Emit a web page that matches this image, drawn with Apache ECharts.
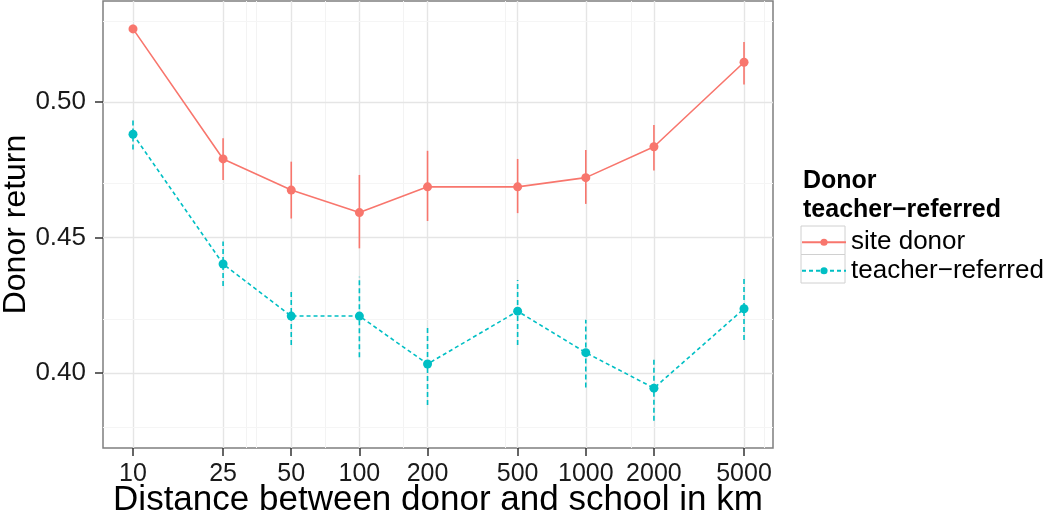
<!DOCTYPE html>
<html>
<head>
<meta charset="utf-8">
<script src="https://cdn.jsdelivr.net/npm/echarts@6/dist/echarts.min.js"></script>
<style>
  html, body { margin: 0; padding: 0; background: #fff; }
  #chart { width: 1050px; height: 514px; }
</style>
</head>
<body>
<div id="chart"></div>
<script>
// distance bins (km), log x axis
const distances = [10, 25, 50, 100, 200, 500, 1000, 2000, 5000]
const yTicks = [0.40, 0.45, 0.50]
const yMinor = [0.375, 0.425, 0.475, 0.525]
const xMinor = [31.6, 35, 70.4, 157, 443, 1580, 6170]

// site donor: mean, lower, upper
const siteMean = [0.527, 0.479, 0.4675, 0.4592, 0.4687, 0.4687, 0.4721, 0.4835, 0.5147]
const siteLow  = [0.5255, 0.4712, 0.457, 0.446, 0.4561, 0.459, 0.4624, 0.4747, 0.5065]
const siteHigh = [0.5285, 0.4866, 0.478, 0.4731, 0.482, 0.479, 0.4823, 0.4915, 0.5222]

// teacher-referred: mean, lower, upper
const teachMean = [0.4881, 0.4402, 0.421, 0.421, 0.4033, 0.4228, 0.4075, 0.3944, 0.4237]
const teachLow  = [0.4825, 0.4321, 0.4103, 0.4058, 0.3882, 0.4103, 0.3946, 0.3824, 0.4122]
const teachHigh = [0.494, 0.4485, 0.4309, 0.4355, 0.4177, 0.4343, 0.4196, 0.4054, 0.4355]

const RED = '#F8766D'
const CYAN = '#00BFC4'
const FONT = 'Liberation Sans'

function pairs(xs, ys) {
  return xs.map((x, i) => [x, ys[i]])
}

function errorBars(name, color, low, high, dash) {
  return {
    name: name,
    type: 'custom',
    z: 3,
    silent: true,
    color: color,
    data: distances.map((d, i) => [d, low[i], high[i]]),
    renderItem: function (params, api) {
      const p1 = api.coord([api.value(0), api.value(1)])
      const p2 = api.coord([api.value(0), api.value(2)])
      return {
        type: 'line',
        shape: { x1: p1[0], y1: p1[1], x2: p2[0], y2: p2[1] },
        style: { stroke: color, lineWidth: 1.6, lineDash: dash, opacity: 1 }
      }
    }
  }
}

const gridLines = []
distances.forEach(v => gridLines.push({ xAxis: v, lineStyle: { color: '#e5e5e5', width: 1.4, type: 'solid' } }))
xMinor.forEach(v => gridLines.push({ xAxis: v, lineStyle: { color: '#f3f3f3', width: 1, type: 'solid' } }))
yTicks.forEach(v => gridLines.push({ yAxis: v, lineStyle: { color: '#e5e5e5', width: 1.4, type: 'solid' } }))
yMinor.forEach(v => gridLines.push({ yAxis: v, lineStyle: { color: '#f5f5f5', width: 1, type: 'solid' } }))

const option = {
  animation: false,
  textStyle: { fontFamily: FONT },
  grid: {
    left: 103, right: 277, top: 1, bottom: 66,
    containLabel: false,
    outerBoundsMode: 'none',
    show: true, borderColor: '#7f7f7f', borderWidth: 1.5, backgroundColor: '#fff'
  },
  title: {
    text: 'Donor\nteacher\u2212referred',
    left: 803, top: 167, padding: 0,
    textStyle: { fontFamily: FONT, fontWeight: 'bold', fontSize: 25, lineHeight: 29, color: '#000' }
  },
  legend: {
    orient: 'vertical',
    left: 801, top: 228, padding: 0,
    itemWidth: 44, itemHeight: 9, itemGap: 0,
    data: ['site donor', 'teacher-referred'],
    formatter: n => n.replace('-', '\u2212'),
    textStyle: { fontFamily: FONT, fontSize: 26, lineHeight: 28.5, color: '#000' }
  },
  xAxis: {
    type: 'log',
    logBase: 10,
    min: 7.37,
    max: 6714,
    name: 'Distance between donor and school in km',
    nameLocation: 'middle',
    nameGap: 35,
    nameMoveOverlap: false,
    nameTextStyle: { fontFamily: FONT, fontSize: 35, color: '#000' },
    axisLine: { show: false },
    axisTick: { show: true, customValues: distances, length: 8, lineStyle: { color: '#333', width: 1.5 } },
    axisLabel: {
      customValues: distances, margin: 14,
      fontFamily: FONT, fontSize: 25, color: '#1a1a1a',
      formatter: v => String(Math.round(v))
    },
    splitLine: { show: false },
    minorSplitLine: { show: false }
  },
  yAxis: {
    type: 'value',
    min: 0.3723,
    max: 0.5373,
    name: 'Donor return',
    nameLocation: 'middle',
    nameGap: 71,
    nameMoveOverlap: false,
    nameTextStyle: { fontFamily: FONT, fontSize: 32, color: '#000' },
    axisLine: { show: false },
    axisTick: { show: true, customValues: yTicks, length: 8, lineStyle: { color: '#333', width: 1.5 } },
    axisLabel: {
      customValues: yTicks, margin: 17,
      fontFamily: FONT, fontSize: 26, color: '#1a1a1a',
      formatter: v => v.toFixed(2)
    },
    splitLine: { show: false }
  },
  series: [
    {
      name: 'grid',
      type: 'line',
      z: 1,
      data: [],
      markLine: { z: 1, silent: true, symbol: 'none', label: { show: false }, data: gridLines }
    },
    errorBars('site donor bars', RED, siteLow, siteHigh, null),
    errorBars('teacher-referred bars', CYAN, teachLow, teachHigh, [5, 3]),
    {
      name: 'site donor',
      type: 'line',
      z: 4,
      data: pairs(distances, siteMean),
      symbol: 'circle',
      symbolSize: 9,
      color: RED,
      itemStyle: { color: RED },
      lineStyle: { color: RED, width: 1.6, type: 'solid' }
    },
    {
      name: 'teacher-referred',
      type: 'line',
      z: 4,
      data: pairs(distances, teachMean),
      symbol: 'circle',
      symbolSize: 9,
      color: CYAN,
      itemStyle: { color: CYAN },
      lineStyle: { color: CYAN, width: 1.6, type: [4, 3] }
    }
  ],
  graphic: [
    { type: 'rect', shape: { x: 801, y: 226, width: 44, height: 28.5 }, style: { fill: 'none', stroke: '#d0d0d0', lineWidth: 1 } },
    { type: 'rect', shape: { x: 801, y: 254.5, width: 44, height: 28.5 }, style: { fill: 'none', stroke: '#d0d0d0', lineWidth: 1 } }
  ]
}

const chart = echarts.init(document.getElementById('chart'))
chart.setOption(option)
</script>
</body>
</html>
